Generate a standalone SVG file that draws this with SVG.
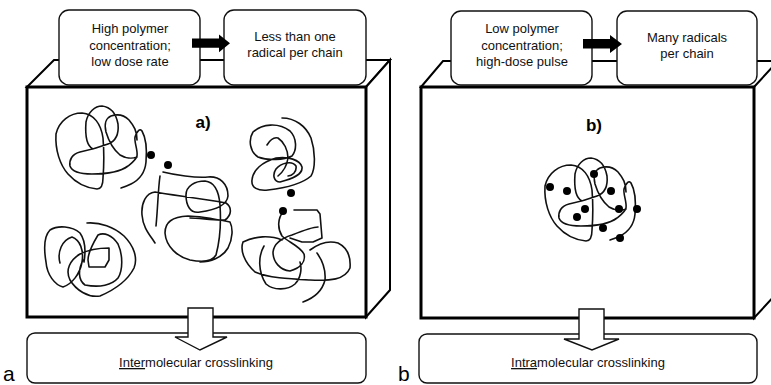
<svg xmlns="http://www.w3.org/2000/svg" width="771" height="385" viewBox="0 0 771 385">
<style>
.t{font-family:"Liberation Sans",Arial,sans-serif;font-size:13px;fill:#111;text-anchor:middle}
.lbl{font-family:"Liberation Sans",Arial,sans-serif;font-size:17px;font-weight:bold;fill:#000;text-anchor:middle}
.big{font-family:"Liberation Sans",Arial,sans-serif;font-size:21px;fill:#000}
.face{fill:#fff;stroke:#000;stroke-width:2;stroke-linejoin:miter}
.front{fill:#fff;stroke:#000;stroke-width:3}
.box{fill:#fff;stroke:#111;stroke-width:1.4}
.coil{fill:none;stroke:#111;stroke-width:1.6;stroke-linejoin:round;stroke-linecap:round}
.dot{fill:#000}
.solid{fill:#000;stroke:none}
.hollow{fill:#fff;stroke:#111;stroke-width:1.4;stroke-linejoin:miter}
</style>
<defs>
<path id="coil1" class="coil" d="M103,178 C104,165 104,150 103,138 C101,124 94,114 82,113 C70,113 59,121 56,134 C55,150 60,165 68,174 C76,183 86,188 97,189 C101,189 103,186 103,178 M93,149 C87,146 85,135 86,122 C88,112 95,106 102,106 C110,107 116,113 118,124 C119,134 116,141 108,144 C100,147 90,150 80,152 C72,154 69,160 70,166 C72,172 80,174 92,174 C106,174 120,172 128,166 C133,162 136,160 137,156 M137,156 C138,150 134,142 135,137 C137,131 140,128 142,131 C146,138 147,150 146,162 C145,173 139,180 131,184 C127,186 124,187 121,188 M137,157 C132,159 125,158 120,155 C114,150 109,142 106,132 C104,124 106,118 111,116 C117,114 124,115 129,120 C134,126 137,131 137,140"/>
</defs>

<g id="panel-a">
  <polygon class="face" points="27,87 54,60 390,60 366,87"/>
  <polygon class="face" points="366,87 390,60 390,290 366,317"/>
  <rect class="front" x="27" y="87" width="339" height="230"/>
  <text class="lbl" x="203" y="128">a)</text>
  <g id="coils-a">
    <use href="#coil1"/>
    <path class="coil" d="M282,118 C295,118 306,126 311,138 C315,150 316,168 311,176 C302,184 285,188 268,190 C258,191 251,188 252,180 C253,170 262,162 276,158 C288,156 300,160 302,167 C303,175 292,179 280,182 C274,182 272,175 276,169 C281,163 292,160 296,166 C297,172 292,176 288,176 M253,132 C262,124 278,122 290,131 C297,138 297,150 292,156 C284,160 268,161 258,157 C250,152 248,140 253,132 M267,145 C270,140 274,137 278,138 C284,142 288,150 288,158 C287,165 283,172 278,176"/>
    <path class="coil" d="M163,172 C175,175 195,178 208,177 C220,176 228,184 228,196 C227,205 215,210 200,212 C190,214 186,205 186,195 C186,186 195,181 205,181 C215,182 219,192 220,205 C221,220 220,240 216,255 C212,262 200,262 190,260 C178,257 166,247 165,233 C165,222 172,217 188,216 C200,216 220,220 230,222 C233,228 233,238 228,248 C222,258 210,262 200,262 M160,176 C158,190 158,205 156,226 M155,192 C146,193 141,203 142,215 C143,228 150,235 155,243 M155,192 C170,195 200,198 226,203 C232,207 232,215 225,220 C215,221 200,218 190,218"/>
    <path class="coil" d="M60,263 C57,252 62,240 72,237 C80,240 84,250 82,262 C80,274 72,284 63,287 C55,285 47,275 46,262 C44,250 44,236 50,230 C58,225 72,226 80,233 C85,240 86,250 84,262 M87,223 C100,222 114,227 124,236 C134,246 138,258 134,268 C128,280 114,290 100,296 C88,298 76,290 70,280 C65,270 70,260 80,254 C88,250 98,248 109,248 L109,260 L105,267 L89,267 L88,260 C88,254 92,245 98,235 C104,232 112,235 118,244 C123,255 123,270 118,278 C112,285 100,288 85,285 C78,280 78,270 83,260"/>
    <path class="coil" d="M283,212 C278,218 277,228 282,236 C288,242 300,246 304,254 C306,262 300,268 290,271 C280,270 273,262 273,252 C274,244 282,238 292,235 C302,231 312,227 318,227 M294,210 L317,210 L320,214 L322,238 L313,242 L302,242 L290,238 M243,242 C255,236 270,235 282,240 M243,242 C240,250 244,262 255,272 C268,278 290,279 310,280 C330,281 345,280 350,268 C351,256 348,248 338,243 C328,240 318,244 310,250 M264,246 C258,256 258,272 266,284 C274,291 288,290 295,284 C301,278 302,268 300,262 M303,302 C314,298 322,292 325,280 C326,268 322,260 317,253"/>
    <circle class="dot" cx="151" cy="155" r="4"/>
    <circle class="dot" cx="168" cy="165" r="4"/>
    <circle class="dot" cx="291" cy="193" r="4"/>
    <circle class="dot" cx="283" cy="211" r="4"/>
  </g>
</g>

<g id="cond-a">
  <rect class="box" x="59" y="10" width="141" height="75" rx="10"/>
  <text class="t" x="130" y="33">High polymer</text>
  <text class="t" x="130" y="50">concentration;</text>
  <text class="t" x="130" y="66">low dose rate</text>
</g>
<g id="result-a">
  <rect class="box" x="224" y="10" width="142" height="75" rx="10"/>
  <text class="t" x="295" y="41">Less than one</text>
  <text class="t" x="295" y="57">radical per chain</text>
</g>
<g id="outcome-a">
  <rect class="box" x="27" y="333" width="339" height="50" rx="8"/>
  <text class="t" x="196" y="367"><tspan text-decoration="underline">Inter</tspan>molecular crosslinking</text>
</g>
<text class="big" x="3" y="381">a</text>

<g id="panel-b">
  <polygon class="face" points="421,87 443,61 790,61 776,87"/>
  <polygon class="face" points="754,87 778,61 778,292 754,318"/>
  <rect class="front" x="421" y="87" width="333" height="231"/>
  <text class="lbl" x="594" y="131">b)</text>
  <g id="coils-b">
    <use href="#coil1" transform="translate(489,52)"/>
    <circle class="dot" cx="550" cy="187" r="4"/>
    <circle class="dot" cx="567" cy="191" r="4"/>
    <circle class="dot" cx="594" cy="174" r="4"/>
    <circle class="dot" cx="611" cy="191" r="4"/>
    <circle class="dot" cx="585" cy="209" r="4"/>
    <circle class="dot" cx="577" cy="217" r="4"/>
    <circle class="dot" cx="619" cy="209" r="4"/>
    <circle class="dot" cx="637" cy="209" r="4"/>
    <circle class="dot" cx="603" cy="228" r="4"/>
    <circle class="dot" cx="620" cy="238" r="4"/>
  </g>
</g>

<g id="cond-b">
  <rect class="box" x="451" y="11" width="141" height="74" rx="10"/>
  <text class="t" x="522" y="33">Low polymer</text>
  <text class="t" x="522" y="50">concentration;</text>
  <text class="t" x="522" y="66">high-dose pulse</text>
</g>
<g id="result-b">
  <rect class="box" x="617" y="11" width="140" height="74" rx="10"/>
  <text class="t" x="687" y="42">Many radicals</text>
  <text class="t" x="687" y="58">per chain</text>
</g>
<g id="outcome-b">
  <rect class="box" x="419" y="334" width="338" height="49" rx="8"/>
  <text class="t" x="588" y="367"><tspan text-decoration="underline">Intra</tspan>molecular crosslinking</text>
</g>
<text class="big" x="398" y="381">b</text>

<g id="connectors">
  <polygon class="solid" points="192,38.5 219,38.5 219,34.5 230,43.3 219,52.3 219,47.7 192,47.7"/>
  <polygon class="solid" points="583,39 610,39 610,35 622,44 610,53 610,48.5 583,48.5"/>
  <polygon class="hollow" points="188,308 213,308 213,337 227,337 200,350 175,337 188,337"/>
  <polygon class="hollow" points="579,309 604,309 604,339 619,339 592,350 564,339 579,339"/>
</g>
</svg>
